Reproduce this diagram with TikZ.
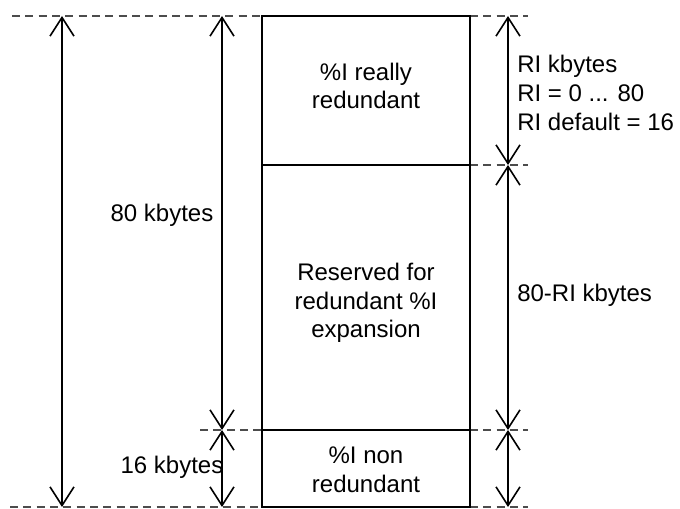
\documentclass[tikz,border=0pt]{standalone}
\usepackage{fontspec}
\setmainfont{Liberation Sans}
\usetikzlibrary{arrows.meta}

\begin{document}
\begin{tikzpicture}[x=0.75pt,y=-0.75pt]
\tikzset{
  section/.style={draw,line width=1.1pt,minimum width=156pt,inner sep=0pt,outer sep=0pt},
  span/.style={{Straight Barb[length=14pt,width=18pt]}-{Straight Barb[length=14pt,width=18pt]},line width=1.2pt},
  guide/.style={gray!60!black,line width=1.6pt,dash pattern=on 6pt off 4pt},
  sizelabel/.style={inner sep=0pt,align=left,font=\fontsize{18}{22}\selectfont},
  boxlabel/.style={inner sep=0pt,align=center,font=\fontsize{18}{21.5}\selectfont}
}
\useasboundingbox (0,0) rectangle (680,509);
% levels of the memory map
\coordinate (y_a) at (0,16);
\coordinate (y_b) at (0,165);
\coordinate (y_c) at (0,430);
\coordinate (y_d) at (0,507);
% dashed guides
\draw[guide] (12,16) -- (262,16);
\draw[guide] (470,16) -- (528,16);
\draw[guide] (470,165) -- (528,165);
\draw[guide] (200,430) -- (262,430);
\draw[guide] (470,430) -- (528,430);
\draw[guide] (10,507) -- (262,507);
\draw[guide] (470,507) -- (528,507);
% sections
\node[section,minimum height=111.75pt] (n_top) at (366,90.5) {};
\node[section,minimum height=198.75pt] (n_mid) at (366,297.5) {};
\node[section,minimum height=57.75pt] (n_bot) at (366,468.5) {};
\node[boxlabel] (t_top) at (366,86) {\%I really\\redundant};
\node[boxlabel] (t_mid) at (366,303) {Reserved for\\redundant \%I\\expansion};
\node[boxlabel] (t_bot) at (366,470) {\%I non\\redundant};
% size arrows
\coordinate (l_a) at (y_a -| 62,0);
\coordinate (l_d) at (y_d -| 62,0);
\coordinate (m_a) at (y_a -| 222,0);
\coordinate (m_c) at (y_c -| 222,0);
\coordinate (m_d) at (y_d -| 222,0);
\coordinate (r_a) at (y_a -| 508,0);
\coordinate (r_b) at (y_b -| 508,0);
\coordinate (r_c) at (y_c -| 508,0);
\coordinate (r_d) at (y_d -| 508,0);
\draw[span] (l_a) -- (l_d);
\draw[span] (m_a) -- (m_c);
\draw[span] (m_c) -- (m_d);
\draw[span] (r_a) -- (r_b);
\draw[span] (r_b) -- (r_c);
\draw[span] (r_c) -- (r_d);
% labels
\node[sizelabel] (t_80) at (162,215) {80 kbytes};
\node[sizelabel] (t_16) at (172,467) {16 kbytes};
\node[sizelabel,anchor=west] (t_ri) at (517,93) {RI kbytes\\RI = 0 ... 80\\RI default = 16};
\node[sizelabel,anchor=west] (t_rest) at (517,295) {80-RI kbytes};
\end{tikzpicture}
\end{document}
